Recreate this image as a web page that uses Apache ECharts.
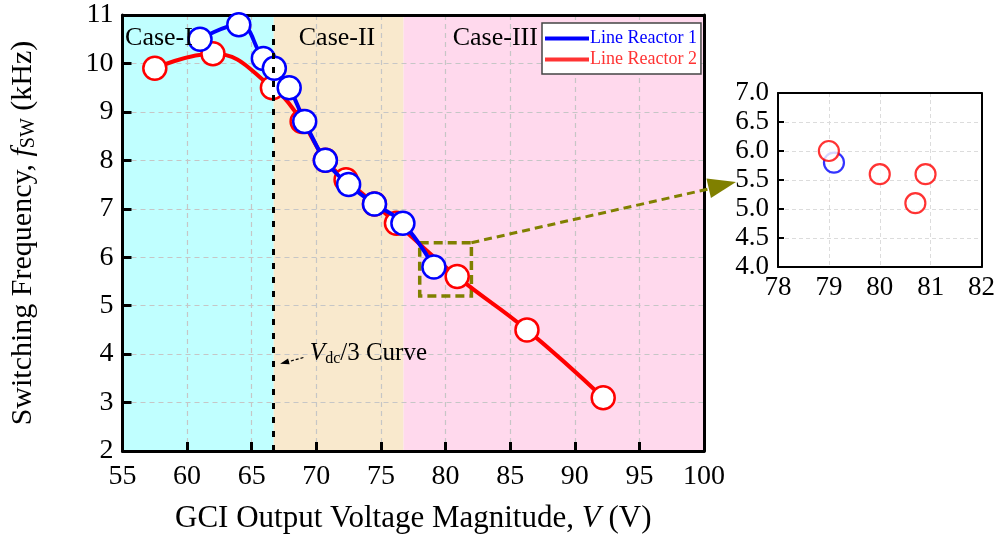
<!DOCTYPE html>
<html>
<head>
<meta charset="utf-8">
<script src="https://cdn.jsdelivr.net/npm/echarts@6/dist/echarts.min.js"></script>
<style>
  html, body { margin: 0; padding: 0; background: #ffffff; }
  #chart { width: 998px; height: 539px; }
</style>
</head>
<body>
<div id="chart"></div>
<script>
// Measured switching frequency (kHz) versus GCI output voltage magnitude (V)
const reactor1Voltage = [61.0, 64.0, 65.9, 66.75, 67.9, 69.1, 70.7, 72.5, 74.5, 76.7, 79.1];
const reactor1Freq    = [10.5, 10.8, 10.1, 9.9, 9.5, 8.8, 8.0, 7.5, 7.1, 6.7, 5.8];
const reactor2Voltage = [57.5, 62.0, 66.6, 68.9, 70.7, 72.3, 74.5, 76.2, 80.9, 86.3, 92.2];
const reactor2Freq    = [9.9, 10.2, 9.5, 8.8, 8.0, 7.6, 7.1, 6.7, 5.6, 4.5, 3.1];

// Enlarged view around 78-82 V
const zoomReactor1Voltage = [79.1];
const zoomReactor1Freq    = [5.8];
const zoomReactor2Voltage = [79.0, 80.0, 80.7, 80.9];
const zoomReactor2Freq    = [6.0, 5.6, 5.1, 5.6];

// Operating regions and the Vdc/3 boundary
const caseNames  = ['Case-I', 'Case-II', 'Case-III'];
const caseBounds = [55, 66.7, 76.75, 100];
const vdcThirdVoltage = 66.7;
const zoomWindow = { v: [78, 82], f: [5.2, 6.3] };

// Axis ticks
const mainXTicks  = [55, 60, 65, 70, 75, 80, 85, 90, 95, 100];
const mainYTicks  = [2, 3, 4, 5, 6, 7, 8, 9, 10, 11];
const insetXTicks = [78, 79, 80, 81, 82];
const insetYTicks = [4.0, 4.5, 5.0, 5.5, 6.0, 6.5, 7.0];

const seriesNames = ['Line Reactor 1', 'Line Reactor 2'];

const FONT = 'Liberation Serif';
const INK = '#000';
const BLUE = '#0000ff';
const RED = '#ff0000';
const OLIVE = '#808000';
const bandColors = ['#c0ffff', '#f9e9cd', '#ffd9ed'];

const pairs = (xs, ys) => xs.map((x, i) => [x, ys[i]]);
const step = t => t[1] - t[0];

const chart = echarts.init(document.getElementById('chart'), null, { renderer: 'canvas' });

const mainSplit = { show: true, lineStyle: { color: '#c6c6c6', type: [5, 4], width: 1.2 } };
const insetSplit = { show: true, lineStyle: { color: '#dcdcdc', type: [4, 3], width: 1 } };
const tickFont = { fontFamily: FONT, fontSize: 28, color: INK };
const insetTickFont = { fontFamily: FONT, fontSize: 27, color: INK };

const borderAxis = (extra) => Object.assign({
  axisLine: { show: true, lineStyle: { color: '#000', width: 3 } },
  axisTick: { show: false }, axisLabel: { show: false }, splitLine: { show: false }
}, extra);

const option = {
  backgroundColor: '#ffffff',
  animation: false,
  textStyle: { fontFamily: FONT },
  grid: [
    { left: 122, top: 15, right: 294, bottom: 88 },
    { left: 778, top: 93, width: 204, height: 174 }
  ],
  legend: {
    left: 542, top: 23,
    orient: 'vertical',
    icon: 'rect', itemWidth: 44, itemHeight: 4, itemGap: 2,
    padding: [6, 4, 5, 3],
    backgroundColor: '#ffffff', borderColor: '#444', borderWidth: 1.5, borderRadius: 0,
    textStyle: { fontFamily: FONT, fontSize: 18, padding: [0, 0, 0, -4], lineHeight: 19 },
    data: [
      { name: seriesNames[0], textStyle: { color: BLUE }, itemStyle: { color: BLUE, borderWidth: 0 } },
      { name: seriesNames[1], textStyle: { color: '#ff3333' }, itemStyle: { color: '#ff3333', borderWidth: 0 } }
    ]
  },
  xAxis: [
    {
      gridIndex: 0, type: 'value',
      min: mainXTicks[0], max: mainXTicks[mainXTicks.length - 1], interval: step(mainXTicks),
      name: '{n|GCI Output Voltage Magnitude, }{i|V}{n| (V)}',
      nameLocation: 'middle', nameGap: 52,
      nameTextStyle: { rich: {
        n: { fontFamily: FONT, fontSize: 31, color: INK },
        i: { fontFamily: FONT, fontSize: 31, fontStyle: 'italic', color: INK }
      } },
      axisLine: { show: true, onZero: false, lineStyle: { color: '#000', width: 3 } },
      axisTick: { show: true, inside: true, length: 9, lineStyle: { color: '#000', width: 3 } },
      axisLabel: Object.assign({ margin: 12 }, tickFont),
      splitLine: mainSplit
    },
    borderAxis({ gridIndex: 0, type: 'value', position: 'top',
      min: mainXTicks[0], max: mainXTicks[mainXTicks.length - 1], interval: step(mainXTicks) }),
    {
      gridIndex: 1, type: 'value',
      min: insetXTicks[0], max: insetXTicks[insetXTicks.length - 1], interval: step(insetXTicks),
      axisLine: { show: true, onZero: false, lineStyle: { color: '#000', width: 2 } },
      axisTick: { show: false },
      axisLabel: Object.assign({ margin: 7 }, insetTickFont),
      splitLine: insetSplit
    },
    Object.assign(borderAxis({ gridIndex: 1, type: 'value', position: 'top',
      min: insetXTicks[0], max: insetXTicks[insetXTicks.length - 1], interval: step(insetXTicks) }),
      { axisLine: { show: true, lineStyle: { color: '#000', width: 2 } } })
  ],
  yAxis: [
    {
      gridIndex: 0, type: 'value',
      min: mainYTicks[0], max: mainYTicks[mainYTicks.length - 1], interval: step(mainYTicks),
      name: '{n|Switching Frequency, }{i|f}{s|SW}{n| (kHz)}',
      nameLocation: 'middle', nameGap: 84, nameRotate: 90,
      nameTextStyle: { rich: {
        n: { fontFamily: FONT, fontSize: 30, color: INK },
        i: { fontFamily: FONT, fontSize: 30, fontStyle: 'italic', color: INK },
        s: { fontFamily: FONT, fontSize: 20, color: INK, verticalAlign: 'bottom', padding: [11, 0, 0, 0] }
      } },
      axisLine: { show: true, onZero: false, lineStyle: { color: '#000', width: 3 } },
      axisTick: { show: true, inside: true, length: 9, lineStyle: { color: '#000', width: 3 } },
      axisLabel: Object.assign({ margin: 9 }, tickFont),
      splitLine: mainSplit
    },
    borderAxis({ gridIndex: 0, type: 'value', position: 'right',
      min: mainYTicks[0], max: mainYTicks[mainYTicks.length - 1], interval: step(mainYTicks) }),
    {
      gridIndex: 1, type: 'value',
      min: insetYTicks[0], max: insetYTicks[insetYTicks.length - 1], interval: step(insetYTicks),
      axisLine: { show: true, onZero: false, lineStyle: { color: '#000', width: 2 } },
      axisTick: { show: true, inside: true, length: 6, lineStyle: { color: '#000', width: 2 } },
      axisLabel: Object.assign({ margin: 9, formatter: v => v.toFixed(1) }, insetTickFont),
      splitLine: insetSplit
    },
    Object.assign(borderAxis({ gridIndex: 1, type: 'value', position: 'right',
      min: insetYTicks[0], max: insetYTicks[insetYTicks.length - 1], interval: step(insetYTicks) }),
      { axisLine: { show: true, lineStyle: { color: '#000', width: 2 } } })
  ],
  series: [
    // Coloured operating regions, kept below the grid lines
    {
      type: 'custom', name: 'regions', xAxisIndex: 0, yAxisIndex: 0, z: -1, silent: true,
      data: caseNames.map((c, i) => [caseBounds[i], caseBounds[i + 1], i]),
      renderItem: (params, api) => {
        const p0 = api.coord([api.value(0), mainYTicks[mainYTicks.length - 1]]);
        const p1 = api.coord([api.value(1), mainYTicks[0]]);
        return { type: 'rect', shape: { x: p0[0], y: p0[1], width: p1[0] - p0[0], height: p1[1] - p0[1] },
                 style: { fill: bandColors[api.value(2)] } };
      }
    },
    {
      name: seriesNames[1], type: 'line', xAxisIndex: 0, yAxisIndex: 0,
      data: pairs(reactor2Voltage, reactor2Freq), smooth: 0.45,
      lineStyle: { color: RED, width: 4 },
      itemStyle: { color: '#ffffff', borderColor: RED, borderWidth: 2.5 },
      symbol: 'circle', symbolSize: 23, z: 3,
      markLine: {
        silent: true, symbol: 'none', label: { show: false },
        lineStyle: { color: '#000', width: 3, type: [6, 8] },
        data: [{ xAxis: vdcThirdVoltage }]
      },
      markArea: {
        silent: true,
        itemStyle: { color: 'rgba(0,0,0,0)', borderColor: OLIVE, borderWidth: 3.5, borderType: [9, 5] },
        data: [[{ coord: [zoomWindow.v[0], zoomWindow.f[1]] }, { coord: [zoomWindow.v[1], zoomWindow.f[0]] }]]
      }
    },
    {
      name: seriesNames[0], type: 'line', xAxisIndex: 0, yAxisIndex: 0,
      data: pairs(reactor1Voltage, reactor1Freq), smooth: 0.45,
      lineStyle: { color: BLUE, width: 4 },
      itemStyle: { color: '#ffffff', borderColor: BLUE, borderWidth: 2.5 },
      symbol: 'circle', symbolSize: 23, z: 4
    },
    {
      name: 'inset-1', type: 'scatter', xAxisIndex: 2, yAxisIndex: 2,
      data: pairs(zoomReactor1Voltage, zoomReactor1Freq),
      symbol: 'circle', symbolSize: 20,
      itemStyle: { color: '#ffffff', borderColor: BLUE, borderWidth: 2.2 }, z: 3
    },
    {
      name: 'inset-2', type: 'scatter', xAxisIndex: 2, yAxisIndex: 2,
      data: pairs(zoomReactor2Voltage, zoomReactor2Freq),
      symbol: 'circle', symbolSize: 20,
      itemStyle: { color: '#ffffff', borderColor: RED, borderWidth: 2.2 }, z: 4
    }
  ]
};

chart.setOption(option);

// Annotations positioned from data coordinates
const toMain = p => chart.convertToPixel({ gridIndex: 0 }, p);
const toInset = p => chart.convertToPixel({ gridIndex: 1 }, p);

const graphics = [];

// Region captions
const caseAnchors = [[55.2, 'left'], [71.6, 'center'], [83.85, 'center']];
caseNames.forEach((name, i) => {
  const p = toMain([caseAnchors[i][0], 10.52]);
  graphics.push({ type: 'text', x: p[0], y: p[1], z: 20,
    style: { text: name, font: '26px "Liberation Serif"', fill: INK,
             align: caseAnchors[i][1], verticalAlign: 'middle' } });
});

// Vdc/3 caption and pointer
const vdcText = toMain([69.5, 4.02]);
graphics.push({ type: 'text', x: vdcText[0], y: vdcText[1], z: 20,
  style: {
    text: '{v|V}{d|dc}{n|/3 Curve}', verticalAlign: 'middle',
    rich: {
      v: { font: 'italic 25px "Liberation Serif"', fill: INK },
      d: { font: '16px "Liberation Serif"', fill: INK, verticalAlign: 'bottom', padding: [11, 0, 0, 0] },
      n: { font: '25px "Liberation Serif"', fill: INK }
    }
  } });
const ptrFrom = toMain([69.0, 3.93]);
const ptrTo = toMain([67.2, 3.8]);
graphics.push({ type: 'line', z: 20, shape: { x1: ptrFrom[0], y1: ptrFrom[1], x2: ptrTo[0] + 6, y2: ptrTo[1] - 1.5 },
  style: { stroke: INK, lineWidth: 1.2, lineDash: [3, 2] } });
(function () {
  const ang = Math.atan2(ptrTo[1] - ptrFrom[1], ptrTo[0] - ptrFrom[0]);
  const L = 9, W = 3;
  const bx = ptrTo[0] - L * Math.cos(ang), by = ptrTo[1] - L * Math.sin(ang);
  graphics.push({ type: 'polygon', z: 20, shape: { points: [
    [ptrTo[0], ptrTo[1]],
    [bx + W * Math.sin(ang), by - W * Math.cos(ang)],
    [bx - W * Math.sin(ang), by + W * Math.cos(ang)]
  ] }, style: { fill: INK } });
})();

// Dashed pointer from the zoom window to the enlarged view
const arrowFrom = toMain([zoomWindow.v[1], zoomWindow.f[1]]);
const insetLeft = toInset([insetXTicks[0], 5.5]);
const arrowTip = [insetLeft[0] - 42, insetLeft[1] + 2];
const ang = Math.atan2(arrowTip[1] - arrowFrom[1], arrowTip[0] - arrowFrom[0]);
const headL = 28, headW = 10;
const base = [arrowTip[0] - headL * Math.cos(ang), arrowTip[1] - headL * Math.sin(ang)];
graphics.push({ type: 'line', z: 20, shape: { x1: arrowFrom[0], y1: arrowFrom[1], x2: base[0] + 3, y2: base[1] },
  style: { stroke: OLIVE, lineWidth: 3, lineDash: [8, 5] } });
graphics.push({ type: 'polygon', z: 20, shape: { points: [
  arrowTip,
  [base[0] + headW * Math.sin(ang), base[1] - headW * Math.cos(ang)],
  [base[0] - headW * Math.sin(ang), base[1] + headW * Math.cos(ang)]
] }, style: { fill: OLIVE } });

chart.setOption({ graphic: graphics });
</script>
</body>
</html>
